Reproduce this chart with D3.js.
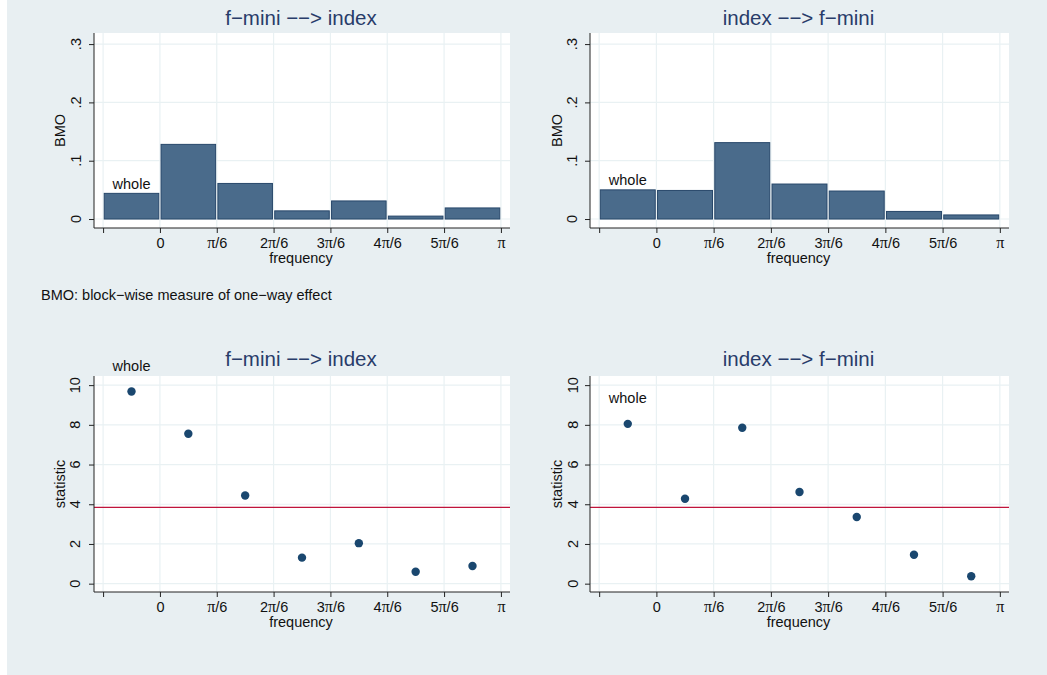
<!DOCTYPE html>
<html>
<head>
<meta charset="utf-8">
<script src="https://cdn.jsdelivr.net/npm/d3@7"></script>
<style>
  body { margin: 0; background: #fff; }
  svg { display: block; font-family: "Liberation Sans", Arial, Helvetica, sans-serif; }
</style>
</head>
<body>
<div class="chart"></div>
<script>
const width = 1047;
const height = 675;

// x positions are in units of pi/6; -1 is the "whole" block
const blocks = [-1, 0, 1, 2, 3, 4, 5];
const tickValues = [-1, 0, 1, 2, 3, 4, 5, 6];
const tickLabels = ["", "0", "π/6", "2π/6", "3π/6", "4π/6", "5π/6", "π"];

const bmoFminiToIndex = [0.044, 0.128, 0.061, 0.014, 0.031, 0.005, 0.019];
const bmoIndexToFmini = [0.050, 0.049, 0.131, 0.060, 0.048, 0.013, 0.007];
const statFminiToIndex = [9.68, 7.55, 4.44, 1.31, 2.04, 0.60, 0.89];
const statIndexToFmini = [8.05, 4.28, 7.85, 4.62, 3.36, 1.46, 0.37];
const critical = 3.84;

const bmoTicks = [0, 0.1, 0.2, 0.3];
const bmoTickLabels = ["0", ".1", ".2", ".3"];
const statTicks = [0, 2, 4, 6, 8, 10];

const titles = ["f−mini −−> index", "index −−> f−mini"];
const note = "BMO: block−wise measure of one−way effect";

const gridColor = "#e9f1f3";
const barFill = "#4a6b8b";
const barStroke = "#27476a";
const dotColor = "#1a476f";
const titleColor = "#283c6a";
const fs = 14.5;

const svg = d3.select(".chart").append("svg")
  .attr("width", width).attr("height", height);

svg.append("rect").attr("x", 7).attr("y", 0)
  .attr("width", width - 7).attr("height", height)
  .attr("fill", "#e8eff2");

// panel frames: plot-region box in pixels
const panels = [
  {left: 94, right: 510, top: 33, bottom: 228, ytitle: 65, ytick: 81, titleY: 25, title: titles[0], kind: "bar", values: bmoFminiToIndex},
  {left: 590, right: 1009, top: 33, bottom: 228, ytitle: 562, ytick: 577, titleY: 25, title: titles[1], kind: "bar", values: bmoIndexToFmini},
  {left: 94, right: 510, top: 376, bottom: 592, ytitle: 65, ytick: 80, titleY: 366, title: titles[0], kind: "dot", values: statFminiToIndex},
  {left: 590, right: 1009, top: 376, bottom: 592, ytitle: 562, ytick: 578, titleY: 366, title: titles[1], kind: "dot", values: statIndexToFmini}
];

const piText = (sel, label) => {
  // pi drawn in a serif face like the Stata symbol font
  const parts = label.split("π");
  parts.forEach((p, i) => {
    if (p) sel.append("tspan").text(p);
    if (i < parts.length - 1) sel.append("tspan").attr("font-family", "Liberation Serif, Times New Roman, serif").attr("font-size", 16).text("π");
  });
};

panels.forEach(p => {
  const g = svg.append("g");
  const isBar = p.kind === "bar";
  const mid = (p.left + p.right) / 2 - 1;

  const xScale = d3.scaleLinear().domain([-1.16, 6.16]).range([p.left, p.right]);
  const yScale = isBar
    ? d3.scaleLinear().domain([-0.0154, 0.319]).range([p.bottom, p.top])
    : d3.scaleLinear().domain([-0.42, 10.46]).range([p.bottom, p.top]);
  const yTicks = isBar ? bmoTicks : statTicks;
  const yLabels = isBar ? bmoTickLabels : statTicks.map(String);

  g.append("rect").attr("x", p.left).attr("y", p.top)
    .attr("width", p.right - p.left).attr("height", p.bottom - p.top)
    .attr("fill", "#fff");

  // grid
  g.selectAll(".vgrid").data(tickValues).enter().append("line")
    .attr("x1", d => xScale(d)).attr("x2", d => xScale(d))
    .attr("y1", p.top).attr("y2", p.bottom)
    .attr("stroke", gridColor).attr("stroke-width", 1.2);
  g.selectAll(".hgrid").data(yTicks).enter().append("line")
    .attr("x1", p.left).attr("x2", p.right)
    .attr("y1", d => yScale(d)).attr("y2", d => yScale(d))
    .attr("stroke", gridColor).attr("stroke-width", 1.2);

  if (isBar) {
    const bw = 0.96;
    g.selectAll(".bar").data(p.values).enter().append("rect")
      .attr("x", (d, i) => xScale(blocks[i] + (1 - bw) / 2))
      .attr("width", xScale(bw) - xScale(0))
      .attr("y", d => yScale(d))
      .attr("height", d => yScale(0) - yScale(d))
      .attr("fill", barFill).attr("stroke", barStroke).attr("stroke-width", 1);
    g.append("text")
      .attr("x", xScale(blocks[0] + 0.5)).attr("y", yScale(p.values[0] + 0.008))
      .attr("text-anchor", "middle").attr("font-size", fs).attr("fill", "#111")
      .text("whole");
  } else {
    g.append("line")
      .attr("x1", p.left).attr("x2", p.right)
      .attr("y1", yScale(critical)).attr("y2", yScale(critical))
      .attr("stroke", "#c0143c").attr("stroke-width", 1.2);
    g.selectAll(".dot").data(p.values).enter().append("circle")
      .attr("cx", (d, i) => xScale(blocks[i] + 0.5))
      .attr("cy", d => yScale(d))
      .attr("r", 4.2)
      .attr("fill", dotColor);
    g.append("text")
      .attr("x", xScale(blocks[0] + 0.5)).attr("y", yScale(p.values[0] + 1.05))
      .attr("text-anchor", "middle").attr("font-size", fs).attr("fill", "#111")
      .text("whole");
  }

  // x axis
  const xAxis = d3.axisBottom(xScale).tickValues(tickValues).tickSize(5).tickSizeOuter(0).tickFormat("");
  const xg = g.append("g").attr("transform", `translate(0,${p.bottom})`).call(xAxis);
  xg.select(".domain").attr("stroke", "#222").attr("d", `M${p.left},0H${p.right}`);
  xg.selectAll(".tick line").attr("stroke", "#222");
  xg.selectAll(".tick").each(function(d, i) {
    const t = d3.select(this).append("text")
      .attr("y", 20).attr("fill", "#111").attr("font-size", fs)
      .attr("text-anchor", "middle");
    piText(t, tickLabels[i]);
  });
  g.append("text")
    .attr("x", mid).attr("y", p.bottom + 35)
    .attr("text-anchor", "middle").attr("font-size", fs).attr("fill", "#111")
    .text("frequency");

  // y axis
  const yAxis = d3.axisLeft(yScale).tickValues(yTicks).tickSize(5).tickSizeOuter(0).tickFormat("");
  const yg = g.append("g").attr("transform", `translate(${p.left},0)`).call(yAxis);
  yg.select(".domain").attr("stroke", "#222").attr("d", `M0,${p.top}V${p.bottom}`);
  yg.selectAll(".tick line").attr("stroke", "#222");
  yTicks.forEach((v, i) => {
    g.append("text")
      .attr("transform", `translate(${p.ytick},${yScale(v)}) rotate(-90)`)
      .attr("text-anchor", "middle").attr("font-size", fs).attr("fill", "#111")
      .text(yLabels[i]);
  });
  g.append("text")
    .attr("transform", `translate(${p.ytitle},${(p.top + p.bottom) / 2}) rotate(-90)`)
    .attr("text-anchor", "middle").attr("font-size", fs).attr("fill", "#111")
    .text(isBar ? "BMO" : "statistic");

  // title
  g.append("text")
    .attr("x", mid).attr("y", p.titleY)
    .attr("text-anchor", "middle").attr("font-size", 20.5).attr("fill", titleColor)
    .text(p.title);
});

svg.append("text")
  .attr("x", 41).attr("y", 300)
  .attr("font-size", fs).attr("fill", "#111")
  .text(note);
</script>
</body>
</html>
